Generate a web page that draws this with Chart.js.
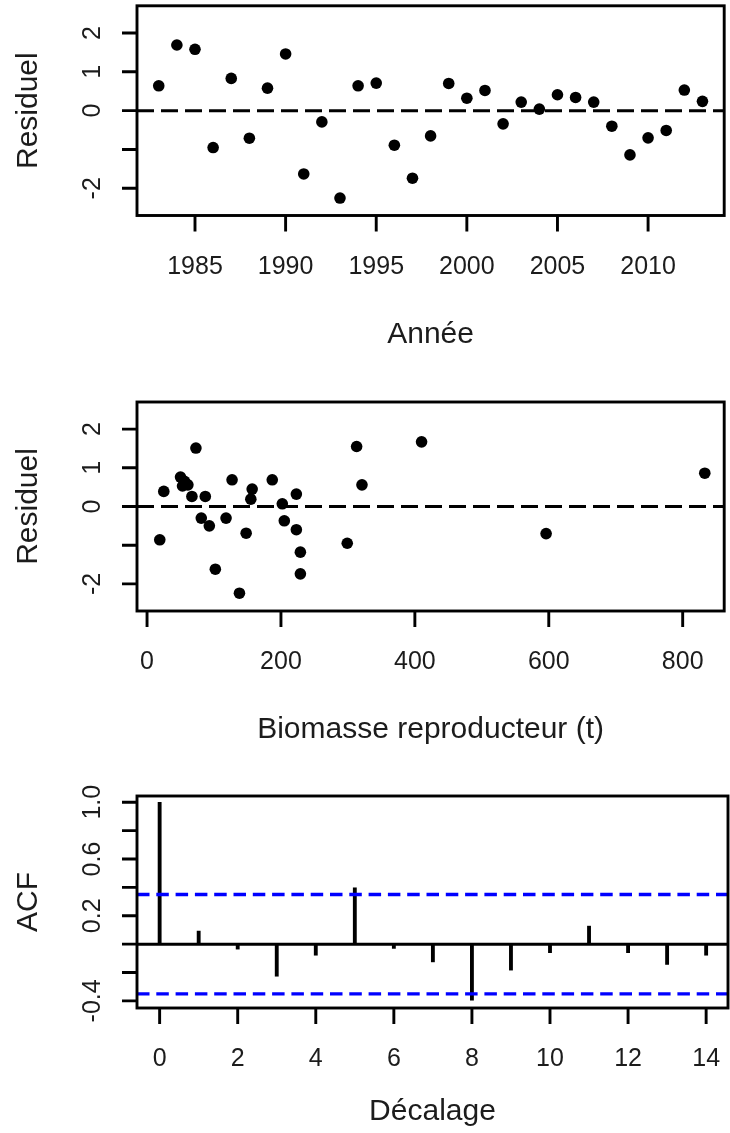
<!DOCTYPE html>
<html>
<head>
<meta charset="utf-8">
<title>Diagnostics des résidus</title>
<script src="https://cdn.jsdelivr.net/npm/chart.js@4.4.1/dist/chart.umd.min.js"></script>
<style>
  html, body { margin: 0; padding: 0; background: #fff; }
  #wrap { position: relative; width: 730px; height: 1133px; overflow: hidden; }
  #wrap canvas { position: absolute; left: 0; }
</style>
</head>
<body>
<div id="wrap">
  <canvas id="annee" width="730" height="378" style="top:0px"></canvas>
  <canvas id="biomasse" width="730" height="378" style="top:378px"></canvas>
  <canvas id="acf" width="730" height="377" style="top:756px"></canvas>
</div>
<script>
// résidus en fonction de l'année
const annees = [1983, 1984, 1985, 1986, 1987, 1988, 1989, 1990, 1991, 1992, 1993,
  1994, 1995, 1996, 1997, 1998, 1999, 2000, 2001, 2002, 2003, 2004, 2005, 2006,
  2007, 2008, 2009, 2010, 2011, 2012, 2013];
const residAnnee = [0.64, 1.69, 1.58, -0.95, 0.83, -0.71, 0.58, 1.46, -1.63, -0.29,
  -2.25, 0.64, 0.71, -0.89, -1.74, -0.65, 0.70, 0.32, 0.52, -0.34, 0.22, 0.04,
  0.41, 0.34, 0.22, -0.40, -1.14, -0.70, -0.51, 0.53, 0.24];

// résidus en fonction de la biomasse reproductrice (t)
const biomasse = [19, 25, 50, 53, 56, 61, 67, 73, 81, 87, 93, 102, 118, 127, 138,
  148, 155, 157, 187, 202, 205, 223, 223, 229, 229, 299, 313, 321, 410, 596, 833];
const residBiomasse = [-0.86, 0.39, 0.76, 0.53, 0.65, 0.56, 0.26, 1.51, -0.30, 0.26,
  -0.50, -1.62, -0.30, 0.69, -2.24, -0.69, 0.19, 0.45, 0.69, 0.07, -0.37, 0.32,
  -0.60, -1.18, -1.74, -0.95, 1.55, 0.56, 1.67, -0.70, 0.86];

// autocorrélation des résidus
const decalages = [0, 1, 2, 3, 4, 5, 6, 7, 8, 9, 10, 11, 12, 13, 14];
const acfValeurs = [1.0, 0.092, -0.035, -0.226, -0.078, 0.397, -0.03, -0.125,
  -0.395, -0.183, -0.06, 0.127, -0.06, -0.143, -0.078];
const limiteIC = 0.35;

// graduations
const ticksAnnee = [1985, 1990, 1995, 2000, 2005, 2010];
const ticksBiomasse = [0, 200, 400, 600, 800];
const ticksDecalage = [0, 2, 4, 6, 8, 10, 12, 14];
const ticksResidu = [-2, -1, 0, 1, 2];
const etiqResidu = [-2, 0, 1, 2];
const ticksAcf = [-0.4, -0.2, 0, 0.2, 0.4, 0.6, 0.8, 1.0];
const etiqAcf = [-0.4, 0.2, 0.6, 1.0];

const POLICE = '"Liberation Sans", Arial, sans-serif';
const ENCRE = '#1c1c1c';

// axes façon R : cadre, graduations extérieures, étiquettes verticales
const axesR = {
  id: 'axesR',
  afterDraw(chart, args, o) {
    const { ctx, chartArea: a } = chart;
    const sx = chart.scales.x, sy = chart.scales.y;
    ctx.save();
    ctx.strokeStyle = '#000';
    ctx.lineWidth = 2.9;
    ctx.lineCap = 'butt';
    ctx.lineJoin = 'miter';
    ctx.strokeRect(a.left, a.top, a.right - a.left, a.bottom - a.top);

    ctx.beginPath();
    o.xTicks.forEach(v => {
      const px = sx.getPixelForValue(v);
      ctx.moveTo(px, a.bottom);
      ctx.lineTo(px, a.bottom + 16);
    });
    o.yTicks.forEach(v => {
      const py = sy.getPixelForValue(v);
      ctx.moveTo(a.left, py);
      ctx.lineTo(a.left - 15, py);
    });
    ctx.stroke();

    ctx.fillStyle = ENCRE;
    ctx.textAlign = 'center';
    ctx.textBaseline = 'alphabetic';
    ctx.font = '25px ' + POLICE;
    o.xTicks.forEach(v => ctx.fillText(String(v), sx.getPixelForValue(v), a.bottom + 58));
    o.yLabels.forEach(v => {
      ctx.save();
      ctx.translate(a.left - 37, sy.getPixelForValue(v));
      ctx.rotate(-Math.PI / 2);
      ctx.fillText(o.fmt(v), 0, 0);
      ctx.restore();
    });

    ctx.font = '30px ' + POLICE;
    ctx.fillText(o.xTitle, (a.left + a.right) / 2, a.bottom + o.xTitleGap);
    ctx.save();
    ctx.translate(a.left - 100, (a.top + a.bottom) / 2);
    ctx.rotate(-Math.PI / 2);
    ctx.fillText(o.yTitle, 0, 0);
    ctx.restore();
    ctx.restore();
  }
};

function base(pad, xMin, xMax, yMin, yMax, axes) {
  return {
    responsive: false,
    animation: false,
    devicePixelRatio: 1,
    events: [],
    layout: { padding: pad },
    scales: {
      x: { type: 'linear', display: false, offset: false, min: xMin, max: xMax },
      y: { type: 'linear', display: false, min: yMin, max: yMax }
    },
    plugins: { legend: { display: false }, tooltip: { enabled: false }, axesR: axes }
  };
}

function ligneH(val, xMin, xMax, couleur, largeur, tirets, ordre) {
  return {
    type: 'line',
    data: [{ x: xMin, y: val }, { x: xMax, y: val }],
    borderColor: couleur,
    borderWidth: largeur,
    borderDash: tirets,
    pointRadius: 0,
    fill: false,
    order: ordre
  };
}

function points(xs, ys) {
  return {
    type: 'scatter',
    data: xs.map((v, i) => ({ x: v, y: ys[i] })),
    backgroundColor: '#000',
    borderWidth: 0,
    pointRadius: 5.8,
    order: 1
  };
}

const resMin = -2.7, resMax = 2.7;

// panneau 1 : résidus / année
const a1 = [1981.8, 2014.2];
new Chart(document.getElementById('annee'), {
  type: 'scatter',
  data: { datasets: [
    ligneH(0, a1[0], a1[1], '#000', 3, [17, 7], 0),
    points(annees, residAnnee)
  ] },
  options: base({ left: 137, top: 5.5, right: 2, bottom: 162.5 }, a1[0], a1[1], resMin, resMax, {
    xTicks: ticksAnnee, yTicks: ticksResidu, yLabels: etiqResidu, fmt: String,
    xTitle: 'Année', yTitle: 'Residuel', xTitleGap: 127
  }),
  plugins: [axesR]
});

// panneau 2 : résidus / biomasse
const b1 = [-15, 862];
new Chart(document.getElementById('biomasse'), {
  type: 'scatter',
  data: { datasets: [
    ligneH(0, b1[0], b1[1], '#000', 3, [17, 7], 0),
    points(biomasse, residBiomasse)
  ] },
  options: base({ left: 137, top: 24, right: 2, bottom: 145 }, b1[0], b1[1], resMin, resMax, {
    xTicks: ticksBiomasse, yTicks: ticksResidu, yLabels: etiqResidu, fmt: String,
    xTitle: 'Biomasse reproducteur (t)', yTitle: 'Residuel', xTitleGap: 127
  }),
  plugins: [axesR]
});

// panneau 3 : fonction d'autocorrélation
const c1 = [-0.58, 14.56];
new Chart(document.getElementById('acf'), {
  type: 'bar',
  data: { datasets: [
    ligneH(limiteIC, c1[0], c1[1], '#0000ff', 3.3, [12.5, 6.8], 0),
    ligneH(-limiteIC, c1[0], c1[1], '#0000ff', 3.3, [12.5, 6.8], 0),
    ligneH(0, c1[0], c1[1], '#000', 3, [], 1),
    {
      type: 'bar',
      data: decalages.map((d, i) => ({ x: d, y: acfValeurs[i] })),
      backgroundColor: '#000',
      borderWidth: 0,
      barThickness: 3.2,
      grouped: false,
      order: 2
    }
  ] },
  options: base({ left: 137, top: 40, right: 2, bottom: 125 }, c1[0], c1[1], -0.45, 1.044, {
    xTicks: ticksDecalage, yTicks: ticksAcf, yLabels: etiqAcf, fmt: v => v.toFixed(1),
    xTitle: 'Décalage', yTitle: 'ACF', xTitleGap: 112
  }),
  plugins: [axesR]
});
</script>
</body>
</html>
